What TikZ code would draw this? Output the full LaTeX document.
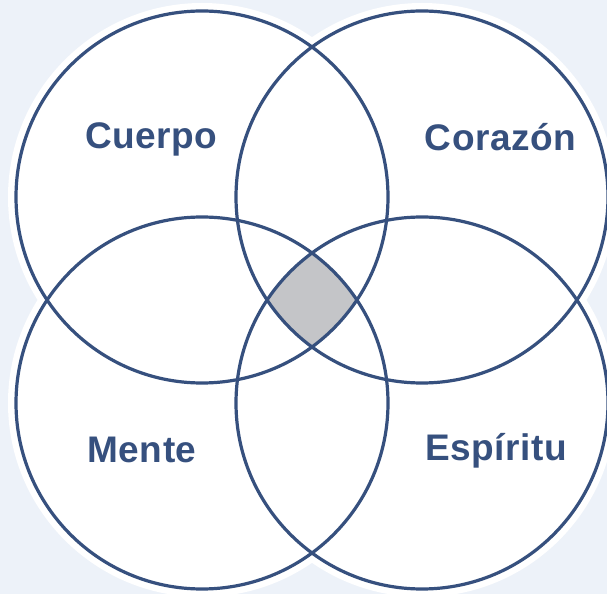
\documentclass[tikz,border=0pt]{standalone}
\usepackage{fontspec}
\setmainfont{Liberation Sans}
\definecolor{venn}{RGB}{54,80,126}
\definecolor{bg}{RGB}{237,242,249}
\definecolor{core}{RGB}{196,197,200}
\tikzset{lbl/.style={font=\fontsize{37}{43}\selectfont\bfseries\addfontfeature{LetterSpace=1.5},text=venn,anchor=base}}
\begin{document}
\begin{tikzpicture}[x=1pt,y=1pt]
\fill[bg](0,0)rectangle(607,594);
\useasboundingbox(0,0)rectangle(607,594);
\foreach \n/\p in {tl/{202,397},tr/{422,397},bl/{202,191},br/{422,191}}
{
    \coordinate(\n)at(\p);
    \fill[white](\n)circle[radius=194pt];
}
% centre shared by all four
\begin{scope}
\clip(tl)circle[radius=186pt];
\clip(tr)circle[radius=186pt];
\clip(bl)circle[radius=186pt];
\fill[core](br)circle[radius=186pt];
\end{scope}
\foreach \n in {tl,tr,bl,br}
    \draw[venn,line width=3.2pt](\n)circle[radius=186pt];
\node[lbl](cuerpo)at(151.5,445){Cuerpo};
\node[lbl](corazon)at(500.5,443){Corazón};
\node[lbl](mente)at(142,131){Mente};
\node[lbl](espiritu)at(496,133){Espíritu};
\end{tikzpicture}
\end{document}
